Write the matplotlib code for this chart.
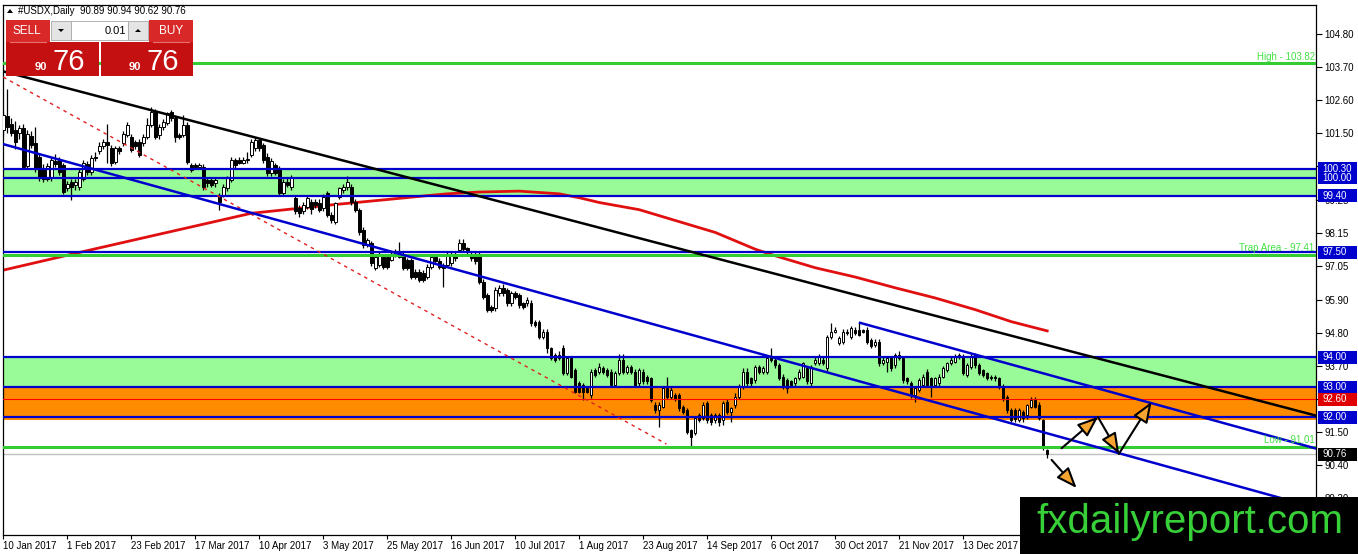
import numpy as np
import matplotlib
matplotlib.use("Agg")
import matplotlib.pyplot as plt
from matplotlib.patches import Rectangle, Polygon
from matplotlib.transforms import blended_transform_factory

plt.rcParams['font.family'] = ['Liberation Sans', 'DejaVu Sans']

# USDX daily candles from 10 Jan 2017
opens = [
    101.60, 102.05, 101.80, 101.60, 101.50, 101.65, 100.40, 101.40, 101.15, 100.70,
    100.30, 99.95, 99.98, 100.55, 100.60, 100.42, 99.65, 99.85, 99.75, 99.70,
    99.95, 100.45, 100.20, 100.70, 100.90, 101.05, 101.20, 100.98, 100.54, 100.98,
    101.15, 101.43, 101.37, 101.20, 101.20, 101.15, 101.37, 101.76, 102.20, 101.43,
    101.70, 101.81, 102.20, 101.98, 101.43, 101.43, 101.76, 100.42, 100.42, 100.37,
    100.37, 99.92, 99.92, 99.81, 99.42, 99.42, 99.64, 99.92, 100.59, 100.59,
    100.50, 100.59, 100.76, 101.00, 101.26, 101.09, 100.70, 100.14, 100.42, 100.31,
    99.48, 99.87, 99.70, 99.31, 98.98, 98.87, 99.03, 99.20, 99.20, 99.14,
    98.98, 99.48, 98.75, 98.53, 99.37, 99.59, 99.70, 99.70, 99.20, 98.92,
    98.25, 97.75, 97.81, 96.97, 97.08, 97.36, 97.36, 97.25, 97.42, 97.42,
    97.42, 97.25, 97.25, 96.86, 96.86, 96.80, 96.69, 97.03, 97.36, 97.20,
    97.08, 97.08, 97.14, 97.42, 97.58, 97.81, 97.64, 97.42, 97.42, 97.42,
    96.53, 96.08, 95.69, 95.63, 96.14, 96.30, 96.25, 95.80, 96.14, 96.08,
    95.80, 95.80, 95.80, 95.19, 95.19, 94.69, 94.86, 94.30, 94.08, 93.96,
    94.30, 93.46, 93.96, 93.57, 93.13, 93.07, 92.96, 92.74, 93.57, 93.52,
    93.63, 93.57, 93.52, 93.07, 93.46, 93.91, 93.52, 93.69, 93.52, 93.13,
    93.52, 93.35, 93.30, 92.40, 92.24, 92.35, 92.96, 92.68, 92.74, 92.74,
    92.35, 92.24, 91.57, 91.46, 92.07, 91.96, 92.46, 92.07, 91.90, 92.07,
    91.90, 92.52, 92.18, 92.40, 92.68, 93.02, 93.52, 93.30, 93.24, 93.69,
    93.52, 93.52, 93.96, 93.91, 93.74, 93.35, 93.24, 93.19, 93.13, 93.30,
    93.35, 93.63, 93.13, 93.80, 93.80, 93.91, 93.63, 94.69, 94.86, 94.46,
    94.52, 94.86, 94.69, 94.91, 94.91, 94.91, 94.91, 94.58, 94.41, 94.52,
    93.80, 93.85, 93.96, 93.74, 94.08, 93.96, 93.30, 93.13, 92.74, 92.91,
    93.07, 93.52, 93.30, 93.07, 93.13, 93.35, 93.57, 93.80, 93.85, 94.02,
    94.02, 93.41, 93.69, 94.08, 93.74, 93.57, 93.46, 93.35, 93.35, 93.30,
    93.02, 92.68, 92.24, 92.24, 91.90, 92.18, 92.07, 92.35, 92.57, 92.41,
    91.90, 90.89,
]
highs = [
    102.20, 102.95, 102.00, 101.90, 101.75, 101.80, 101.60, 101.55, 101.70, 100.80,
    100.45, 100.50, 100.70, 100.80, 100.70, 100.50, 99.90, 99.95, 99.95, 100.30,
    100.60, 100.55, 100.75, 100.85, 101.20, 101.30, 101.80, 101.10, 101.05, 101.05,
    101.55, 101.85, 101.45, 101.25, 101.30, 101.45, 101.98, 102.35, 102.30, 101.80,
    101.95, 102.20, 102.26, 102.05, 101.50, 102.09, 101.85, 100.50, 100.50, 100.50,
    100.45, 100.00, 100.00, 100.00, 99.50, 99.80, 100.05, 100.70, 100.65, 100.70,
    100.70, 100.87, 101.30, 101.35, 101.30, 101.15, 100.81, 100.65, 100.50, 100.40,
    99.95, 99.98, 100.10, 99.40, 99.10, 99.20, 99.40, 99.30, 99.30, 99.30,
    99.45, 99.55, 98.85, 99.20, 99.70, 99.80, 100.05, 99.80, 99.30, 99.00,
    98.35, 98.00, 97.90, 97.45, 97.50, 97.45, 97.45, 97.50, 97.60, 97.85,
    97.50, 97.30, 97.30, 96.95, 96.95, 96.90, 97.10, 97.45, 97.45, 97.30,
    97.15, 97.50, 97.50, 97.50, 97.95, 97.95, 97.70, 97.50, 97.50, 97.50,
    96.60, 96.15, 95.75, 96.35, 96.40, 96.45, 96.30, 96.20, 96.20, 96.15,
    95.85, 96.00, 95.90, 95.25, 95.25, 94.95, 94.95, 94.35, 94.15, 94.20,
    94.40, 94.05, 94.05, 93.65, 93.20, 93.15, 93.05, 93.60, 93.65, 93.80,
    93.70, 93.65, 93.60, 93.55, 94.10, 94.10, 93.75, 93.75, 93.60, 93.65,
    93.60, 93.40, 93.35, 92.50, 92.50, 93.05, 93.35, 93.00, 92.80, 92.80,
    92.40, 92.30, 91.60, 92.05, 92.15, 92.50, 92.55, 92.15, 92.15, 92.15,
    92.55, 92.60, 92.35, 92.80, 93.10, 93.65, 93.65, 93.35, 93.75, 93.75,
    93.70, 94.05, 94.30, 94.00, 93.80, 93.45, 93.30, 93.25, 93.35, 93.60,
    93.85, 93.70, 93.75, 94.00, 94.10, 94.00, 94.75, 95.16, 95.00, 94.70,
    94.95, 94.95, 95.05, 95.00, 95.16, 94.95, 95.00, 94.65, 94.60, 94.60,
    94.00, 94.00, 94.05, 94.15, 94.20, 94.05, 93.35, 93.20, 93.00, 93.30,
    93.45, 93.60, 93.35, 93.35, 93.45, 93.70, 93.85, 94.00, 94.10, 94.15,
    94.10, 93.80, 94.10, 94.15, 93.80, 93.60, 93.50, 93.40, 93.40, 93.35,
    93.10, 92.75, 92.30, 92.30, 92.30, 92.25, 92.45, 92.66, 92.66, 92.50,
    91.95, 90.94,
]
lows = [
    101.40, 101.48, 101.40, 100.95, 101.30, 100.30, 100.30, 101.00, 100.20, 99.90,
    99.85, 99.90, 99.90, 100.35, 100.10, 99.45, 99.55, 99.25, 99.60, 99.60,
    99.90, 100.10, 100.10, 100.55, 100.80, 100.95, 100.50, 100.40, 100.45, 100.80,
    101.05, 101.35, 100.85, 100.95, 100.70, 101.05, 101.30, 101.70, 101.30, 101.30,
    101.60, 101.75, 101.90, 101.20, 101.30, 101.35, 100.45, 100.20, 100.30, 100.30,
    99.60, 99.70, 99.70, 99.70, 98.92, 99.35, 99.55, 99.85, 100.30, 100.45,
    100.45, 100.50, 100.70, 100.90, 100.90, 100.50, 100.05, 100.05, 100.10, 99.40,
    99.40, 99.70, 99.60, 98.80, 98.70, 98.80, 98.95, 98.80, 99.00, 98.85,
    98.90, 98.70, 98.50, 98.45, 99.30, 99.50, 99.60, 99.10, 98.85, 98.10,
    97.65, 97.70, 97.05, 96.90, 97.00, 96.95, 96.95, 97.20, 97.35, 97.30,
    96.90, 96.90, 96.60, 96.60, 96.50, 96.50, 96.60, 96.95, 97.10, 96.95,
    96.36, 97.00, 97.05, 97.20, 97.50, 97.50, 97.45, 97.20, 97.10, 96.45,
    95.95, 95.50, 95.50, 95.55, 96.05, 96.05, 95.70, 95.70, 95.95, 95.65,
    95.60, 95.70, 95.05, 95.00, 94.60, 94.60, 94.13, 93.90, 93.85, 93.90,
    93.40, 93.40, 93.30, 92.80, 92.80, 92.57, 92.80, 92.65, 93.35, 93.45,
    93.45, 93.35, 93.00, 93.00, 93.40, 93.45, 93.45, 93.45, 93.00, 93.05,
    93.10, 93.10, 92.50, 92.15, 91.68, 92.30, 92.60, 92.60, 92.55, 92.20,
    92.10, 91.45, 91.01, 91.40, 91.85, 91.90, 91.80, 91.75, 91.80, 91.70,
    91.75, 92.10, 91.85, 92.30, 92.60, 92.95, 93.05, 93.05, 93.15, 93.45,
    93.45, 93.45, 93.85, 93.65, 93.25, 92.95, 92.80, 93.00, 93.05, 93.25,
    93.30, 93.10, 93.05, 93.75, 93.75, 93.75, 93.55, 94.60, 94.80, 94.40,
    94.45, 94.75, 94.60, 94.75, 94.70, 94.80, 94.45, 94.30, 94.35, 93.70,
    93.75, 93.50, 93.55, 93.65, 93.90, 93.15, 93.10, 92.65, 92.52, 92.85,
    93.00, 93.00, 92.68, 93.00, 93.05, 93.30, 93.50, 93.75, 93.80, 93.95,
    93.40, 93.35, 93.60, 93.65, 93.40, 93.35, 93.25, 93.25, 93.20, 92.95,
    92.55, 92.15, 91.85, 91.85, 91.85, 91.85, 91.95, 92.30, 92.30, 91.90,
    90.90, 90.62,
]
closes = [
    102.10, 101.70, 101.50, 101.20, 101.65, 100.35, 101.45, 101.10, 100.30, 99.98,
    99.95, 100.40, 100.60, 100.45, 100.20, 99.53, 99.80, 99.70, 99.85, 100.20,
    100.50, 100.20, 100.65, 100.65, 101.05, 101.20, 101.10, 100.48, 100.98, 100.90,
    101.45, 101.76, 100.92, 101.05, 100.76, 101.37, 101.76, 102.20, 101.37, 101.70,
    101.87, 102.15, 101.98, 101.37, 101.37, 101.76, 100.54, 100.26, 100.37, 100.42,
    99.70, 99.81, 99.76, 99.92, 99.20, 99.70, 99.98, 100.59, 100.42, 100.50,
    100.59, 100.62, 101.20, 101.26, 101.00, 100.59, 100.15, 100.55, 100.14, 99.48,
    99.87, 99.76, 99.98, 98.87, 98.81, 99.09, 99.31, 98.95, 99.09, 98.92,
    99.37, 98.75, 98.59, 99.14, 99.64, 99.70, 99.85, 99.20, 98.92, 98.20,
    97.75, 97.92, 97.14, 97.36, 97.42, 97.03, 97.03, 97.42, 97.50, 97.36,
    96.97, 96.97, 96.69, 96.69, 96.58, 96.58, 97.03, 97.36, 97.20, 97.03,
    96.97, 97.42, 97.42, 97.30, 97.81, 97.60, 97.53, 97.30, 97.20, 96.53,
    96.02, 95.58, 95.58, 96.25, 96.30, 96.14, 95.80, 96.14, 96.02, 95.75,
    95.69, 95.91, 95.13, 95.08, 94.69, 94.86, 94.30, 93.96, 93.91, 94.08,
    93.46, 93.96, 93.35, 92.85, 92.85, 92.85, 92.85, 93.52, 93.41, 93.69,
    93.52, 93.41, 93.07, 93.46, 93.91, 93.52, 93.69, 93.52, 93.07, 93.57,
    93.19, 93.19, 92.57, 92.24, 92.40, 92.96, 92.68, 92.91, 92.63, 92.29,
    92.18, 91.51, 91.35, 91.96, 91.90, 92.40, 91.90, 91.85, 92.07, 91.85,
    92.46, 92.18, 92.29, 92.68, 93.02, 93.52, 93.13, 93.13, 93.69, 93.52,
    93.63, 93.96, 93.91, 93.74, 93.30, 93.02, 92.96, 93.07, 93.30, 93.52,
    93.80, 93.19, 93.69, 93.91, 94.02, 93.80, 94.69, 94.86, 94.91, 94.63,
    94.86, 94.80, 94.97, 94.80, 94.74, 94.85, 94.52, 94.38, 94.52, 93.80,
    93.91, 93.96, 93.63, 94.08, 93.96, 93.24, 93.19, 92.74, 92.96, 93.24,
    93.35, 93.07, 93.02, 93.30, 93.35, 93.63, 93.80, 93.91, 94.02, 94.08,
    93.46, 93.74, 94.02, 93.74, 93.46, 93.41, 93.30, 93.30, 93.30, 93.02,
    92.63, 92.24, 91.90, 91.95, 92.24, 91.96, 92.41, 92.57, 92.35, 91.96,
    90.96, 90.76,
]

# red moving average, read at points along the curve (bar index, price)
ma_bars = [0, 18, 37, 62, 82, 96, 106, 111, 119, 129, 139, 144, 149, 159, 168,
           178, 188, 193, 203, 213, 223, 233, 243, 252, 261]
ma_values = [96.91, 97.47, 98.05, 98.81, 99.09, 99.27, 99.40, 99.46, 99.52, 99.55,
             99.46, 99.33, 99.17, 98.93, 98.57, 98.17, 97.61, 97.39, 96.99, 96.68,
             96.32, 95.98, 95.59, 95.19, 94.88]

date_labels = ["10 Jan 2017", "1 Feb 2017", "23 Feb 2017", "17 Mar 2017",
               "10 Apr 2017", "3 May 2017", "25 May 2017", "16 Jun 2017",
               "10 Jul 2017", "1 Aug 2017", "23 Aug 2017", "14 Sep 2017",
               "6 Oct 2017", "30 Oct 2017", "21 Nov 2017", "13 Dec 2017"]
price_labels = ["104.80", "103.70", "102.60", "101.50", "100.40", "99.25", "98.15",
                "97.05", "95.90", "94.80", "93.70", "92.60", "91.50", "90.40", "89.30"]

# levels drawn on the chart
blue_levels = [100.30, 100.00, 99.40, 97.50, 94.00, 93.00, 92.00]
green_zones = [(99.40, 100.30), (93.00, 94.00)]
orange_zone = (91.90, 93.00)
green_levels = [("High", 103.82), ("Trap Area", 97.41), ("Low", 91.01)]
red_level = 92.60
bid_price = 90.76

# trend lines as (bar, price) end points
black_trend = [(0, 103.55), (328.2, 92.05)]
red_dashed = [(0, 103.36), (165.8, 91.10)]
channel_low = [(0, 101.12), (328.2, 88.97)]
channel_high = [(214.2, 95.15), (328.2, 90.95)]

# projected path arrows (start, end)
arrows = [((264.6, 90.96), (273.75, 92.01)),
          ((273.7, 92.00), (279.0, 90.77)),
          ((278.9, 90.77), (287.1, 92.51)),
          ((262.1, 90.57), (268.35, 89.63))]

W, H = 1358, 554
fig = plt.figure(figsize=(W / 100, H / 100), dpi=100)
fig.patch.set_facecolor('white')

# chart area: x 3..1316 px, y 5..535 px
ax = fig.add_axes([3 / W, (H - 535) / H, 1313 / W, 530 / H])
ax.set_xlim(-0.075, 328.2)
ax.set_ylim(88.061, 105.769)
for s in ax.spines.values():
    s.set_color('black')
    s.set_linewidth(0.9)

# zones
for lo, hi in green_zones:
    ax.axhspan(lo, hi, color='#98FB98', lw=0, zorder=1)
ax.axhspan(orange_zone[0], orange_zone[1], color='#FF8C00', lw=0, zorder=1)

# moving average
ax.plot(ma_bars, ma_values, color='#E01010', lw=2.0, zorder=2, solid_joinstyle='round')

# candles
o = np.array(opens)
h = np.array(highs)
l = np.array(lows)
c = np.array(closes)
x = np.arange(len(c))
up = c >= o
ax.vlines(x, l, h, color='black', lw=0.9, zorder=3)
body_lo = np.minimum(o, c)
body_h = np.maximum(np.abs(c - o), 0.02)
ax.bar(x[up], body_h[up], bottom=body_lo[up], width=0.62, facecolor='white',
       edgecolor='black', lw=0.7, zorder=3.5)
ax.bar(x[~up], body_h[~up], bottom=body_lo[~up], width=0.62, facecolor='black',
       edgecolor='black', lw=0.7, zorder=3.5)

# horizontal levels
blend = blended_transform_factory(ax.transAxes, ax.transData)
for lvl in blue_levels:
    ax.axhline(lvl, color='#0000CD', lw=1.6, zorder=4)
for name, lvl in green_levels:
    ax.axhline(lvl, color='#33CC33', lw=2.2, zorder=4)
    ax.text(0.999, lvl + 0.06, f"{name} - {lvl:.2f}", transform=blend, ha='right',
            va='bottom', color='#44E044', fontsize=7, zorder=5)
ax.axhline(red_level, color='#FF0000', lw=0.8, zorder=4)
ax.axhline(bid_price, color='#C0C0C0', lw=1.0, zorder=2)

# trend lines
ax.plot(*zip(*black_trend), color='black', lw=1.8, zorder=4.5)
ax.plot(*zip(*red_dashed), color='#E02020', lw=1.0, ls=(0, (2.5, 3)), zorder=4.5)
ax.plot(*zip(*channel_low), color='#0000CD', lw=1.8, zorder=4.5)
ax.plot(*zip(*channel_high), color='#0000CD', lw=1.8, zorder=4.5)

# arrows
for (x0, y0), (x1, y1) in arrows:
    ax.annotate('', xy=(x1, y1), xytext=(x0, y0),
                arrowprops=dict(arrowstyle='-|>,head_length=0.9,head_width=0.35',
                                mutation_scale=14, fc='#F6A431', ec='black', lw=1.5,
                                shrinkA=0, shrinkB=0), zorder=7)

# axes ticks
ax.set_xticks(range(0, 16 * len(date_labels), 16))
ax.set_xticklabels(date_labels, ha='left')
ax.tick_params(axis='x', length=3, width=0.8, pad=1.5, labelsize=7)
ax.yaxis.tick_right()
ax.set_yticks([float(t) for t in price_labels])
ax.set_yticklabels(price_labels)
ax.tick_params(axis='y', length=4, width=0.8, pad=2, labelsize=7)

# price boxes on the right scale
box_h = 13 / 29.93
boxes = [(v, '#0000CD') for v in blue_levels] + [(red_level, '#E00000'), (bid_price, 'black')]
for v, col in boxes:
    ax.add_patch(Rectangle((1.0015, v - box_h / 2), 0.0295, box_h, transform=blend,
                           facecolor=col, edgecolor='none', clip_on=False, zorder=6))
    ax.text(1.0046, v, f"{v:.2f}", transform=blend, ha='left', va='center',
            color='white', fontsize=7, clip_on=False, zorder=6.5)

# overlay in pixel coordinates for the trade panel and the watermark
ov = fig.add_axes([0, 0, 1, 1])
ov.set_xlim(0, W)
ov.set_ylim(H, 0)
ov.axis('off')
ov.patch.set_alpha(0)

ov.add_patch(Polygon([(7, 13), (13, 13), (10, 9)], closed=True, fc='black'))
ov.text(18, 11, f"#USDX,Daily  {opens[-1]:.2f} {highs[-1]:.2f} {lows[-1]:.2f} {closes[-1]:.2f}",
        fontsize=7, va='center', ha='left')

red_top = '#D82828'
red_bot = '#C41010'
ov.add_patch(Rectangle((6, 20), 44, 22, fc=red_top, ec='none'))
ov.add_patch(Rectangle((149, 20), 44, 22, fc=red_top, ec='none'))
ov.add_patch(Rectangle((6, 42), 93, 34, fc=red_bot, ec='none'))
ov.add_patch(Rectangle((101, 42), 92, 34, fc=red_bot, ec='none'))
ov.plot([10, 46], [42, 42], color='#E87070', lw=0.8)
ov.plot([153, 189], [42, 42], color='#E87070', lw=0.8)
ov.add_patch(Rectangle((51, 21), 20, 19, fc='#E4E4E4', ec='#A8A8A8', lw=0.6))
ov.add_patch(Rectangle((71, 21), 57, 19, fc='white', ec='#A8A8A8', lw=0.6))
ov.add_patch(Rectangle((128, 21), 20, 19, fc='#E4E4E4', ec='#A8A8A8', lw=0.6))
ov.add_patch(Polygon([(58, 29), (64, 29), (61, 32)], closed=True, fc='black'))
ov.add_patch(Polygon([(135, 32), (141, 32), (138, 29)], closed=True, fc='black'))
ov.text(126, 31, "0.01", fontsize=8, ha='right', va='center')
ov.text(27, 31, "SELL", fontsize=8.5, ha='center', va='center', color='white')
ov.text(171, 31, "BUY", fontsize=8.5, ha='center', va='center', color='white')
bid_txt = f"{bid_price:.2f}"
big, small = bid_txt.split('.')
for x0 in (35, 129):
    ov.text(x0, 70, big, fontsize=8, fontweight='bold', color='white', ha='left', va='baseline')
    ov.text(x0 + 18, 70, small, fontsize=21, color='white', ha='left', va='baseline')

# watermark
ov.add_patch(Rectangle((1020, 497), 338, 57, fc='black', ec='none'))
ov.text(1190, 533, "fxdailyreport.com", fontsize=29, color='#38D038',
        ha='center', va='baseline')

fig.savefig('out.png', dpi=100, facecolor='white')
